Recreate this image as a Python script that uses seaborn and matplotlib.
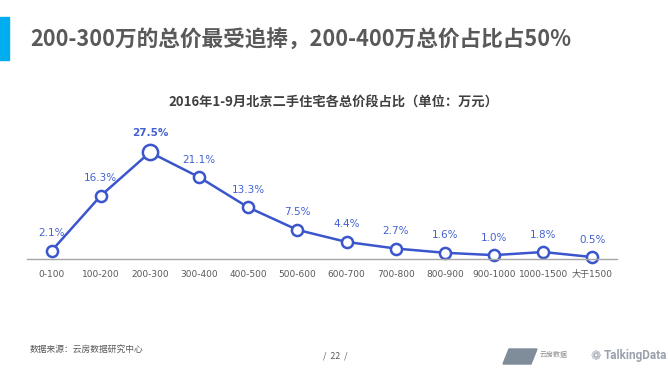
import numpy as np
import pandas as pd
import seaborn as sns
from matplotlib import pyplot as plt
from matplotlib.patches import Rectangle, Polygon

price_bands = ["0-100", "100-200", "200-300", "300-400", "400-500", "500-600",
               "600-700", "700-800", "800-900", "900-1000", "1000-1500", "大于1500"]
share_pct = [2.1, 16.3, 27.5, 21.1, 13.3, 7.5, 4.4, 2.7, 1.6, 1.0, 1.8, 0.5]

headline = "200-300万的总价最受追捧，200-400万总价占比占50%"
chart_title = "2016年1-9月北京二手住宅各总价段占比（单位：万元）"
source_note = "数据来源：云房数据研究中心"
page_no = "/  22  /"

BLUE = "#3B56CC"
LABEL_BLUE = "#4361D0"


def main():
    sns.set_theme(style="white")
    plt.rcParams["font.family"] = ["Noto Sans CJK SC", "DejaVu Sans"]

    df = pd.DataFrame({"band": price_bands, "share": share_pct})
    df["pos"] = np.arange(len(df))

    fig = plt.figure(figsize=(6.68, 3.75), dpi=100)
    W, H = 668, 375
    ax = fig.add_axes([27 / W, 1 - 259 / H, 590 / W, (259 - 142.6) / H])

    sns.lineplot(data=df, x="pos", y="share", ax=ax, color=BLUE, linewidth=1.8,
                 marker="o", markersize=8, markerfacecolor="white",
                 markeredgecolor=BLUE, markeredgewidth=1.8, clip_on=False)
    top = df["share"].idxmax()
    ax.plot(df.loc[top, "pos"], df.loc[top, "share"], "o", ms=11, mfc="white",
            mec=BLUE, mew=1.8, clip_on=False, zorder=5)

    for i, row in df.iterrows():
        ax.annotate(f"{row['share']:.1f}%", (row["pos"], row["share"]),
                    xytext=(0, 9 if i != top else 10), textcoords="offset points",
                    ha="center", va="bottom", color=LABEL_BLUE, fontsize=7.5,
                    fontweight="bold" if i == top else "normal",
                    family=["DejaVu Sans"], annotation_clip=False)

    ax.set_xlim(-0.5, len(df) - 0.5)
    ax.set_ylim(0, 30)
    ax.set_xticks(df["pos"])
    ax.set_xticklabels(df["band"], fontsize=6.5, color="#595959")
    for lbl in ax.get_xticklabels():
        lbl.set_family(["DejaVu Sans", "Noto Sans CJK SC"])
    ax.tick_params(axis="x", length=0, pad=8)
    ax.set_yticks([])
    ax.set_xlabel("")
    ax.set_ylabel("")
    for side in ["top", "left", "right"]:
        ax.spines[side].set_visible(False)
    ax.spines["bottom"].set_color("#A6A6A6")
    ax.spines["bottom"].set_linewidth(1)

    # header
    fig.patches.append(Rectangle((0, 1 - 60 / H), 9 / W, 43 / H, transform=fig.transFigure,
                                 color="#00AEEF"))
    fig.text(30 / W, 1 - 40 / H, headline, fontsize=15.6, fontweight="heavy", color="#595959",
             va="center", ha="left")
    fig.text(333 / W, 1 - 103 / H, chart_title, fontsize=9.5, fontweight="bold", color="#404040",
             va="center", ha="center")

    # footer
    fig.text(30 / W, 1 - 349 / H, source_note, fontsize=6.3, color="#595959", va="center")
    fig.text(335 / W, 1 - 356 / H, page_no, fontsize=6.3, color="#595959", va="center", ha="center")
    fig.patches.append(Polygon([(503 / W, 1 - 364 / H), (509 / W, 1 - 349 / H),
                                (537 / W, 1 - 349 / H), (531 / W, 1 - 364 / H)],
                               closed=True, transform=fig.transFigure, color="#7F8C99"))
    fig.text(540 / W, 1 - 355 / H, "云房数据", fontsize=5, color="#8C8C8C", va="center")
    fig.text(604 / W, 1 - 356 / H, "TalkingData", fontsize=8.5, fontweight="bold",
             color="#9AA3AD", va="center", ha="left", family=["Roboto", "DejaVu Sans"])
    fig.text(590 / W, 1 - 356 / H, "❁", fontsize=9, color="#9AA3AD", va="center",
             family=["DejaVu Sans"])

    fig.savefig("out.png", dpi=100)
    plt.close(fig)


if __name__ == "__main__":
    main()
